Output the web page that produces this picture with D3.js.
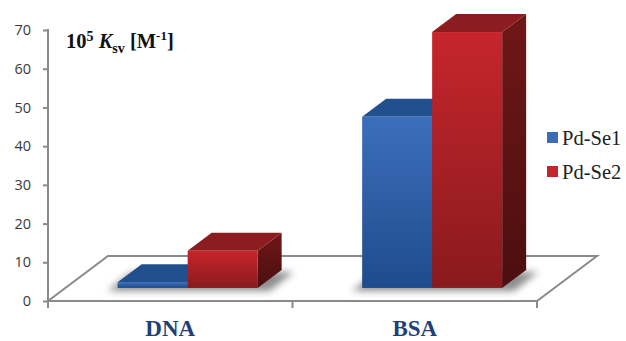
<!DOCTYPE html>
<html>
<head>
<meta charset="utf-8">
<script src="https://cdn.jsdelivr.net/npm/d3@7/dist/d3.min.js"></script>
<style>
  html, body { margin: 0; padding: 0; background: #fff; }
  svg { display: block; }
</style>
</head>
<body>
<svg id="chart" width="626" height="341"></svg>
<script>
// Stern–Volmer quenching constants (10^5 Ksv, M^-1)
const categories = ["DNA", "BSA"];
const series = ["Pd-Se1", "Pd-Se2"];
const pdSe1 = [1.5, 44.2];
const pdSe2 = [9.6, 66.1];
const yTicks = [0, 10, 20, 30, 40, 50, 60, 70];

const svg = d3.select("#chart");
const defs = svg.append("defs");

// plot geometry
const plotLeft = 48, plotRight = 537, plotBottom = 301, plotTop = 30;
const floorDx = 60, floorDy = 45;        // oblique depth of the floor
const barFrontFrac = 0.29, barDepthFrac = 0.4;
const barW = 70;

const y = d3.scaleLinear().domain([0, 70]).range([plotBottom, plotTop]);
const x0 = d3.scaleBand().domain(categories).range([plotLeft, plotRight]);
const x1 = d3.scaleBand().domain(series).range([-barW, barW]);

const colors = {
  "Pd-Se1": { front: ["#3c6fbb", "#1f4b8d"], top: "#22508f", side: ["#1a3d70", "#12305a"], legend: "#3b6cb7" },
  "Pd-Se2": { front: ["#c6252c", "#891a1d"], top: "#8b1d20", side: ["#6f1717", "#4c0e0f"], legend: "#c1272d" }
};

// gradients
series.forEach((s, i) => {
  const c = colors[s];
  const gf = defs.append("linearGradient").attr("id", "front" + i)
    .attr("x1", 0).attr("y1", 0).attr("x2", 0).attr("y2", 1);
  gf.append("stop").attr("offset", "0%").attr("stop-color", c.front[0]);
  gf.append("stop").attr("offset", "100%").attr("stop-color", c.front[1]);
  const gs = defs.append("linearGradient").attr("id", "side" + i)
    .attr("x1", 0).attr("y1", 0).attr("x2", 0).attr("y2", 1);
  gs.append("stop").attr("offset", "0%").attr("stop-color", c.side[0]);
  gs.append("stop").attr("offset", "100%").attr("stop-color", c.side[1]);
});
defs.append("filter").attr("id", "soft").attr("x", "-20%").attr("y", "-50%")
  .attr("width", "140%").attr("height", "200%")
  .append("feGaussianBlur").attr("stdDeviation", 3.5);

// floor
const gray = "#8a8a8a";
svg.append("polygon")
  .attr("points", [[plotLeft, plotBottom], [plotRight, plotBottom], [plotRight + floorDx, plotBottom - floorDy], [plotLeft + floorDx, plotBottom - floorDy]].join(" "))
  .attr("fill", "#fff").attr("stroke", gray).attr("stroke-width", 2).attr("stroke-linejoin", "miter");

// vertical axis
const yAxis = d3.axisLeft(y).tickValues(yTicks).tickSize(5).tickPadding(12);
const ya = svg.append("g").attr("transform", `translate(${plotLeft},0)`).call(yAxis);
ya.select(".domain").remove();
ya.selectAll(".tick line").attr("stroke", gray).attr("stroke-width", 2);
ya.selectAll(".tick text").attr("fill", "#3a3a3a")
  .style("font-family", "'Open Sans', sans-serif").style("font-size", "14.5px");
svg.append("line").attr("x1", plotLeft).attr("x2", plotLeft).attr("y1", plotTop - 1).attr("y2", plotBottom)
  .attr("stroke", gray).attr("stroke-width", 2);

// category boundary ticks under the floor's front edge
const bounds = [plotLeft].concat(categories.map(c => x0(c) + x0.bandwidth()));
svg.selectAll("line.cat").data(bounds).join("line").attr("class", "cat")
  .attr("x1", d => d).attr("x2", d => d).attr("y1", plotBottom).attr("y2", plotBottom + 7)
  .attr("stroke", gray).attr("stroke-width", 2);

// bars
const shiftX = floorDx * barFrontFrac, shiftY = floorDy * barFrontFrac;
const dX = floorDx * barDepthFrac, dY = floorDy * barDepthFrac;
const base = plotBottom - shiftY;
const barsG = svg.append("g");

categories.forEach((cat, ci) => {
  const cx = x0(cat) + x0.bandwidth() / 2 + shiftX;
  // soft shadow on the floor beneath the pair
  const sx0 = cx + x1(series[0]) - 10, sx1 = cx + x1(series[1]) + barW + dX + 12;
  barsG.append("polygon")
    .attr("points", [[sx0, base + 3], [sx1 - dX, base + 3], [sx1, base - dY + 2], [sx0 + dX, base - dY + 2]].join(" "))
    .attr("fill", "#333").attr("opacity", 0.55).attr("filter", "url(#soft)");

  series.forEach((s, si) => {
    const v = (si === 0 ? pdSe1 : pdSe2)[ci];
    const c = colors[s];
    const xa = cx + x1(s), xb = xa + barW;
    const yt = base - (y(0) - y(v));
    const g = barsG.append("g");
    // right side
    g.append("polygon")
      .attr("points", [[xb, base], [xb + dX, base - dY], [xb + dX, yt - dY], [xb, yt]].join(" "))
      .attr("fill", `url(#side${si})`);
    // top
    g.append("polygon")
      .attr("points", [[xa, yt], [xb, yt], [xb + dX, yt - dY], [xa + dX, yt - dY]].join(" "))
      .attr("fill", c.top);
    // front
    g.append("rect").attr("x", xa).attr("y", yt).attr("width", barW).attr("height", base - yt)
      .attr("fill", `url(#front${si})`);
  });
});

// category labels
svg.selectAll("text.cat").data(categories).join("text").attr("class", "cat")
  .attr("x", d => x0(d) + x0.bandwidth() / 2).attr("y", 336)
  .attr("text-anchor", "middle")
  .style("font-family", "'Liberation Serif', 'Times New Roman', serif")
  .style("font-weight", "bold").style("font-size", "23px").attr("fill", "#1f3f78")
  .text(d => d);

// axis title: 10^5 Ksv [M^-1]
const title = svg.append("text").attr("x", 66).attr("y", 48)
  .style("font-family", "'Liberation Serif', 'Times New Roman', serif")
  .style("font-weight", "bold").style("font-size", "20.5px").attr("fill", "#111");
title.append("tspan").text("10");
title.append("tspan").attr("dy", -7).style("font-size", "14px").text("5");
title.append("tspan").attr("dy", 7).text(" ");
title.append("tspan").style("font-style", "italic").text("K");
title.append("tspan").attr("dy", 5).style("font-size", "14px").text("sv");
title.append("tspan").attr("dy", -5).text(" [M");
title.append("tspan").attr("dy", -8).style("font-size", "13px").text("-1");
title.append("tspan").attr("dy", 8).text("]");

// legend
const lg = svg.append("g").selectAll("g").data(series).join("g")
  .attr("transform", (d, i) => `translate(547,${132 + i * 34})`);
lg.append("rect").attr("width", 11).attr("height", 11).attr("fill", d => colors[d].legend);
lg.append("text").attr("x", 15).attr("y", 13)
  .style("font-family", "'Liberation Serif', 'Times New Roman', serif")
  .style("font-size", "20.5px").attr("fill", "#222").text(d => d);
</script>
</body>
</html>
